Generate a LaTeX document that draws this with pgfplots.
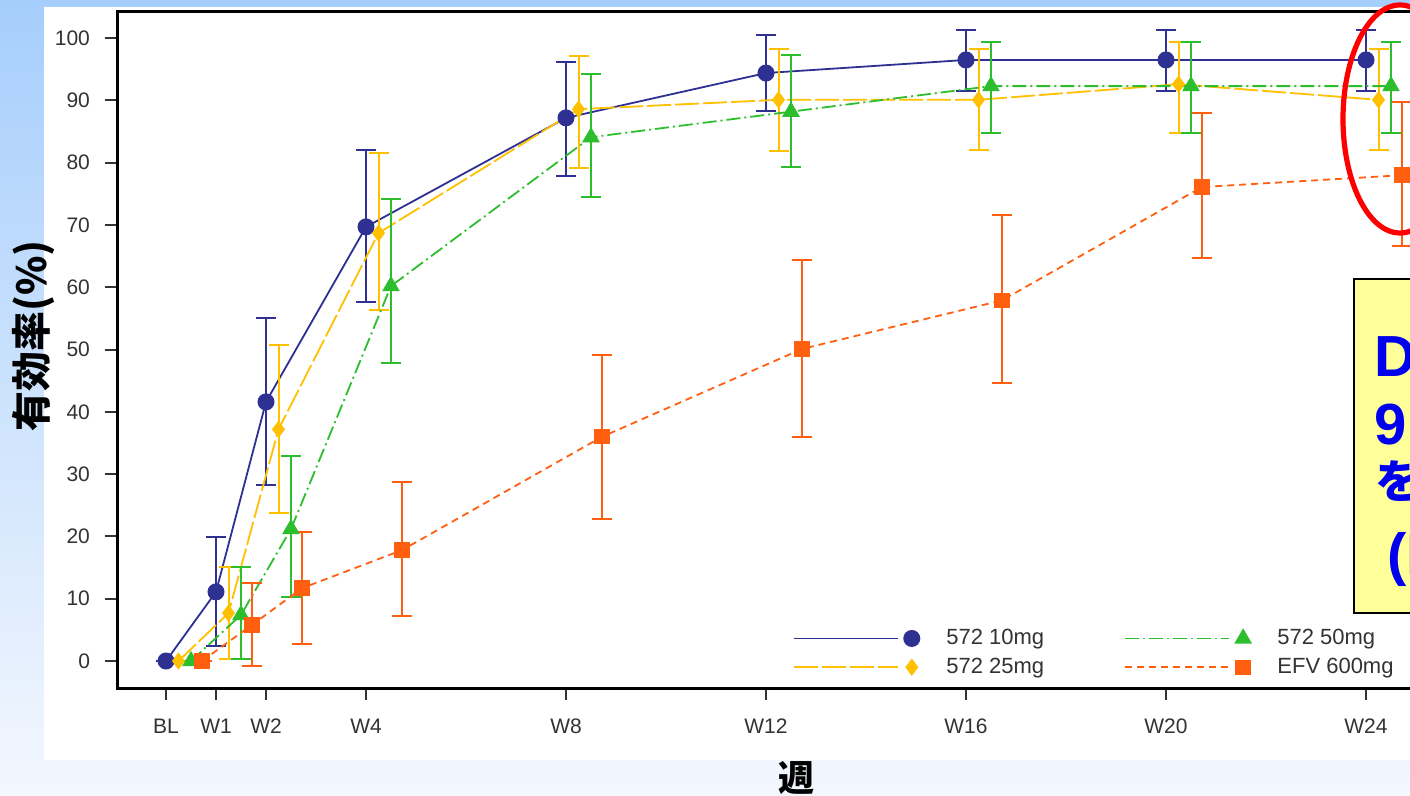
\documentclass[border=0pt]{standalone}
\usepackage{pgfplots}
\pgfplotsset{compat=1.18}
\usepackage{pgfplotstable}
\usepackage{fontspec}
\setmainfont{Liberation Sans}
\newfontfamily\cjk{Noto Sans CJK JP}
\definecolor{bgtop}{RGB}{166,206,252}
\definecolor{bgbot}{RGB}{243,247,254}
\definecolor{navyc}{HTML}{2E3192}
\definecolor{goldc}{HTML}{FFC000}
\definecolor{greenc}{HTML}{2DBE2D}
\definecolor{orangec}{HTML}{FF5F0F}
\definecolor{tickgray}{HTML}{333333}
\definecolor{boxyellow}{HTML}{FFFF99}
\definecolor{boxblue}{HTML}{0000EE}

\pgfplotstableread{
x y ep em
0 0 0 0
1 11.1 8.8 8.7
2 41.6 13.4 13.4
4 69.7 12.3 12.1
8 87.2 9.0 9.4
12 94.4 6.1 6.1
16 96.5 4.8 5.0
20 96.5 4.8 5.0
24 96.5 4.8 5.0
}\tenmg
\pgfplotstableread{
x y ep em
0.25 0 0 0
1.25 7.7 7.4 7.4
2.25 37.2 13.5 13.4
4.25 68.7 12.8 12.4
8.25 88.6 8.6 9.4
12.25 90.1 8.1 8.2
16.25 90.1 8.1 8.1
20.25 92.6 6.8 7.9
24.25 90.1 8.1 8.1
}\twfmg
\pgfplotstableread{
x y ep em
0.5 0 0 0
1.5 7.4 7.7 7.1
2.5 21.2 11.7 10.9
4.5 60.2 13.9 12.4
8.5 84.1 10.1 9.6
12.5 88.2 9.1 8.9
16.5 92.3 7.1 7.6
20.5 92.3 7.1 7.6
24.5 92.3 7.1 7.6
}\fifmg
\pgfplotstableread{
x y ep em
0.72 0 0 0
1.72 5.8 6.7 6.6
2.72 11.7 9.0 9.0
4.72 17.8 10.9 10.6
8.72 36.0 13.1 13.2
12.72 50.1 14.3 14.1
16.72 57.9 13.7 13.3
20.72 76.1 11.9 11.4
24.72 78.0 11.8 11.4
}\efv

\pgfplotsset{
  s10/.style={navyc, line width=0.9pt, mark=*, mark size=3.8pt, mark options={solid}},
  s25/.style={goldc, line width=0.9pt, dash pattern=on 12pt off 2pt, mark=diamond*, mark size=3.6pt, mark options={solid}},
  s50/.style={greenc, line width=0.9pt, dash pattern=on 7pt off 2pt on 1pt off 2pt, mark=triangle*, mark size=4.2pt, mark options={solid}},
  sefv/.style={orangec, line width=0.9pt, dash pattern=on 3.5pt off 2.5pt, mark=square*, mark size=3.4pt, mark options={solid}},
  eb/.style={error bars/.cd, y dir=both, y explicit,
    error bar style={solid, line width=1pt},
    error mark options={solid, rotate=90, line width=1pt, mark size=5pt}},
}

\begin{document}
\begin{tikzpicture}
\useasboundingbox (0,0) rectangle (705pt,-398pt);
\clip (0,0) rectangle (705pt,-398pt);
\shade[top color=bgtop,bottom color=bgbot] (0,0) rectangle (705pt,-398pt);
\fill[white] (22pt,-3.5pt) rectangle (720pt,-380pt);
\begin{axis}[
  at={(58.5pt,-344pt)}, anchor=south west,
  scale only axis, width=649.5pt, height=338pt,
  xmin=-0.98, xmax=25, ymin=-4.33, ymax=104.2,
  axis line style={line width=1.5pt},
  xtick={0,1,2,4,8,12,16,20,24},
  xticklabels={BL,W1,W2,W4,W8,W12,W16,W20,W24},
  ytick={0,10,...,100},
  tick align=outside, tick pos=left,
  major tick length=6pt,
  tick style={line width=1pt, tickgray},
  ticklabel style={font=\fontsize{10.5}{12}\selectfont, text=tickgray},
  /pgf/number format/assume math mode=true,
  xticklabel style={yshift=-6pt},
  yticklabel style={xshift=-4pt},
  clip=false,
  legend columns=2,
  legend cell align=left,
  legend image code/.code={
    \draw[#1,mark=none] (0pt,0pt) -- (52pt,0pt);
    \draw[#1,solid] plot coordinates {(59pt,0pt)};
  },
  legend style={draw=none, fill=none, at={(0.520,0.0136)}, anchor=south west,
    inner sep=0pt, font=\fontsize{11}{13}\selectfont, text=tickgray,
    nodes={inner sep=1pt}, row sep=3.2pt,
    /tikz/every odd column/.append style={column sep=12.5pt},
    /tikz/every even column/.append style={column sep=39pt}},
]
\addplot[s10, forget plot, eb] table[x=x,y=y,y error plus=ep,y error minus=em] {\tenmg};
\addplot[s25, forget plot, eb] table[x=x,y=y,y error plus=ep,y error minus=em] {\twfmg};
\addplot[s50, forget plot, eb] table[x=x,y=y,y error plus=ep,y error minus=em] {\fifmg};
\addplot[sefv, forget plot, eb] table[x=x,y=y,y error plus=ep,y error minus=em] {\efv};
\addlegendimage{s10}\addlegendentry{572 10mg}
\addlegendimage{s50}\addlegendentry{572 50mg}
\addlegendimage{s25}\addlegendentry{572 25mg}
\addlegendimage{sefv}\addlegendentry{EFV 600mg}
\end{axis}
% red ellipse
\draw[red, line width=2.6pt] (700pt,-59.5pt) ellipse [x radius=28.5pt, y radius=57pt];
% yellow box
\draw[black, line width=1pt, fill=boxyellow] (677pt,-139.5pt) rectangle (720pt,-306.5pt);
\node[anchor=base west, inner sep=0pt, text=boxblue, font=\bfseries\fontsize{29}{33}\selectfont] at (687pt,-188.5pt) {Dolutegravir};
\node[anchor=base west, inner sep=0pt, text=boxblue, font=\bfseries\fontsize{29}{33}\selectfont] at (687pt,-222.5pt) {9\,0\%{\cjk 以上の有効率}};
\node[anchor=base west, inner sep=0pt, text=boxblue, font=\cjk\bfseries\fontsize{23}{28}\selectfont] at (687.5pt,-249.5pt) {を達成};
\node[anchor=base west, inner sep=0pt, text=boxblue, font=\bfseries\fontsize{29}{33}\selectfont] at (693.5pt,-287.5pt) {(ING112276)};
% axis titles
\node[rotate=90, font=\cjk\bfseries\fontsize{20}{20}\selectfont] at (16.5pt,-168pt) {有効率(\%)};
\node[font=\cjk\bfseries\fontsize{18}{18}\selectfont] at (398pt,-389pt) {週};
\end{tikzpicture}
\end{document}
